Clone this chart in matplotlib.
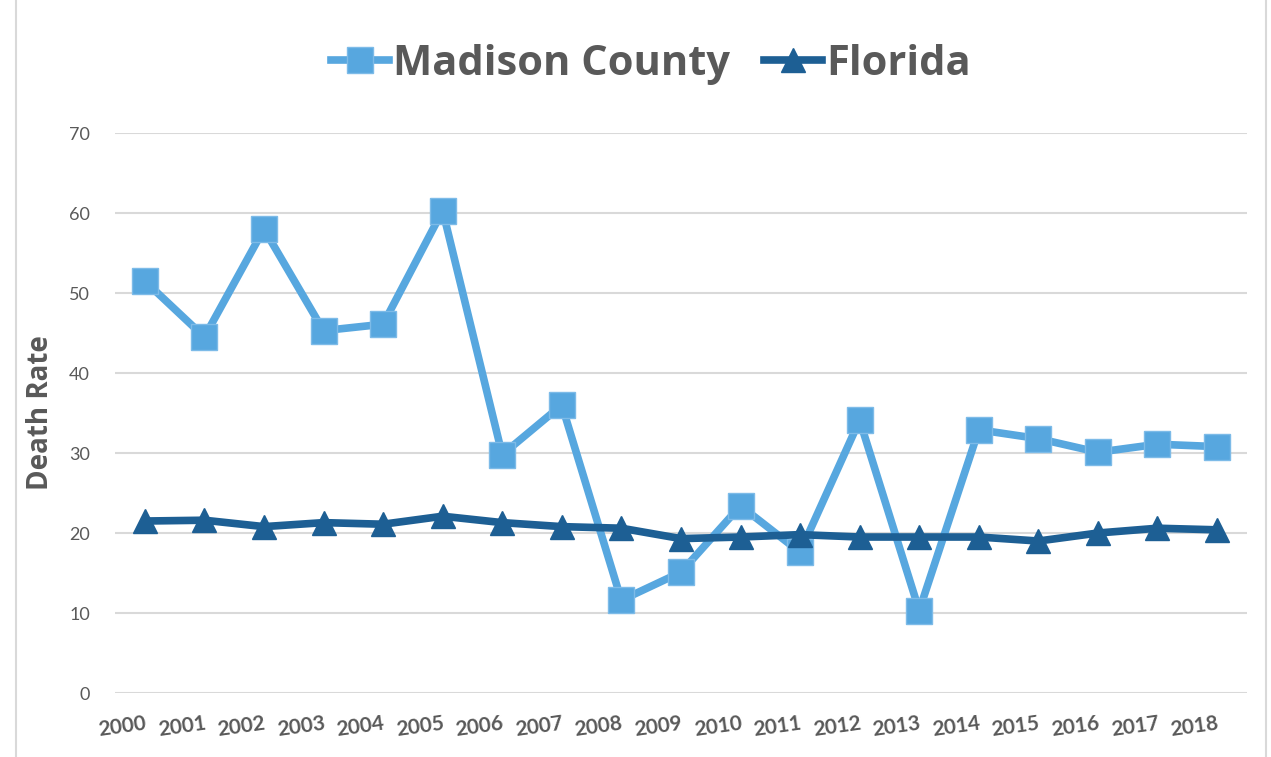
import matplotlib.pyplot as plt

years = [str(y) for y in range(2000, 2019)]
madison = [51.5, 44.5, 58.0, 45.3, 46.1, 60.3, 29.8, 36.0, 11.6, 15.1, 23.4,
           17.6, 34.1, 10.3, 32.9, 31.8, 30.1, 31.1, 30.8]
florida = [21.5, 21.6, 20.8, 21.3, 21.1, 22.1, 21.3, 20.8, 20.6, 19.3, 19.5,
           19.8, 19.5, 19.5, 19.5, 19.0, 20.0, 20.6, 20.4]

light = '#57A7DF'
dark = '#1D5F94'
grey = '#595959'

fig = plt.figure(figsize=(12.71, 7.57), dpi=100)
ax = fig.add_axes([0.0905, 0.0845, 0.8905, 0.7398])

x = list(range(len(years)))
ax.plot(x, madison, color=light, lw=5.5, marker='s', ms=19,
        markerfacecolor=light, markeredgecolor='#7DBBE8', markeredgewidth=1,
        label='Madison County', zorder=3)
ax.plot(x, florida, color=dark, lw=5.5, marker='^', ms=17,
        markerfacecolor=dark, markeredgecolor=dark,
        label='Florida', zorder=4)

ax.set_xlim(-0.5, len(years) - 0.5)
ax.set_ylim(0, 70)
ax.set_yticks(range(0, 71, 10))
ax.set_xticks(x)
ax.set_xticklabels(years, rotation=8, fontsize=15, color=grey,
                   fontfamily='Lato', fontweight='bold',
                   ha='right', rotation_mode='anchor')
ax.tick_params(axis='y', labelsize=13, labelcolor=grey, length=0, pad=18)
ax.tick_params(axis='x', length=0, pad=15)
for lab in ax.get_yticklabels():
    lab.set_fontfamily('Lato')

ax.grid(axis='y', color='#D9D9D9', lw=1.5)
ax.set_axisbelow(True)
for s in ax.spines.values():
    s.set_visible(False)

ax.set_ylabel('Death Rate', fontsize=20, fontweight='bold', color=grey,
              fontfamily='Open Sans', labelpad=10)

leg = fig.legend(loc='center', bbox_to_anchor=(0.512, 0.915), ncol=2,
                 frameon=False, handlelength=1.4, columnspacing=0.8,
                 handletextpad=0.1,
                 prop={'family': 'Open Sans', 'weight': 'bold', 'size': 30})
for t in leg.get_texts():
    t.set_color(grey)

# thin frame lines at left and right edges
fig.add_artist(plt.Line2D([0.0125, 0.0125], [0, 1], color='#D9D9D9', lw=1.5))
fig.add_artist(plt.Line2D([0.996, 0.996], [0, 1], color='#D9D9D9', lw=1.5))

fig.savefig('out.png', dpi=100)
